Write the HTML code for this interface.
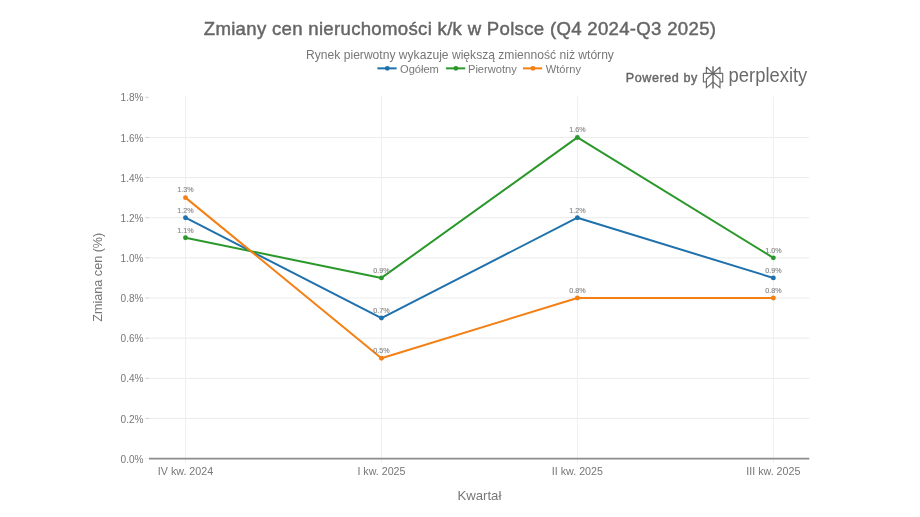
<!DOCTYPE html><html><head><meta charset="utf-8"><style>html,body{margin:0;padding:0;background:#fff;}svg{display:block;will-change:transform;}text{font-family:"Liberation Sans",sans-serif;}</style></head><body>
<svg width="920" height="517" viewBox="0 0 920 517">
<rect width="920" height="517" fill="#fff"/>
<line x1="149.0" x2="809.3" y1="418.41" y2="418.41" stroke="#ebebeb" stroke-width="1"/>
<line x1="149.0" x2="809.3" y1="378.27" y2="378.27" stroke="#ebebeb" stroke-width="1"/>
<line x1="149.0" x2="809.3" y1="338.13" y2="338.13" stroke="#ebebeb" stroke-width="1"/>
<line x1="149.0" x2="809.3" y1="297.99" y2="297.99" stroke="#ebebeb" stroke-width="1"/>
<line x1="149.0" x2="809.3" y1="257.85" y2="257.85" stroke="#ebebeb" stroke-width="1"/>
<line x1="149.0" x2="809.3" y1="217.71" y2="217.71" stroke="#ebebeb" stroke-width="1"/>
<line x1="149.0" x2="809.3" y1="177.57" y2="177.57" stroke="#ebebeb" stroke-width="1"/>
<line x1="149.0" x2="809.3" y1="137.43" y2="137.43" stroke="#ebebeb" stroke-width="1"/>
<line x1="185.5" x2="185.5" y1="96.09" y2="462.55" stroke="#efefef" stroke-width="1"/>
<line x1="381.45" x2="381.45" y1="96.09" y2="462.55" stroke="#efefef" stroke-width="1"/>
<line x1="577.4" x2="577.4" y1="96.09" y2="462.55" stroke="#efefef" stroke-width="1"/>
<line x1="773.35" x2="773.35" y1="96.09" y2="462.55" stroke="#efefef" stroke-width="1"/>
<line x1="145" x2="149.0" y1="458.55" y2="458.55" stroke="#f2f2f2" stroke-width="1"/>
<text x="143.6" y="462.65" font-size="10.1" fill="#777" text-anchor="end">0.0%</text>
<line x1="145" x2="149.0" y1="418.41" y2="418.41" stroke="#d4d4d4" stroke-width="1"/>
<text x="143.6" y="422.51" font-size="10.1" fill="#777" text-anchor="end">0.2%</text>
<line x1="145" x2="149.0" y1="378.27" y2="378.27" stroke="#d4d4d4" stroke-width="1"/>
<text x="143.6" y="382.37" font-size="10.1" fill="#777" text-anchor="end">0.4%</text>
<line x1="145" x2="149.0" y1="338.13" y2="338.13" stroke="#d4d4d4" stroke-width="1"/>
<text x="143.6" y="342.23" font-size="10.1" fill="#777" text-anchor="end">0.6%</text>
<line x1="145" x2="149.0" y1="297.99" y2="297.99" stroke="#d4d4d4" stroke-width="1"/>
<text x="143.6" y="302.09" font-size="10.1" fill="#777" text-anchor="end">0.8%</text>
<line x1="145" x2="149.0" y1="257.85" y2="257.85" stroke="#d4d4d4" stroke-width="1"/>
<text x="143.6" y="261.95" font-size="10.1" fill="#777" text-anchor="end">1.0%</text>
<line x1="145" x2="149.0" y1="217.71" y2="217.71" stroke="#d4d4d4" stroke-width="1"/>
<text x="143.6" y="221.81" font-size="10.1" fill="#777" text-anchor="end">1.2%</text>
<line x1="145" x2="149.0" y1="177.57" y2="177.57" stroke="#d4d4d4" stroke-width="1"/>
<text x="143.6" y="181.67" font-size="10.1" fill="#777" text-anchor="end">1.4%</text>
<line x1="145" x2="149.0" y1="137.43" y2="137.43" stroke="#d4d4d4" stroke-width="1"/>
<text x="143.6" y="141.53" font-size="10.1" fill="#777" text-anchor="end">1.6%</text>
<line x1="145" x2="149.0" y1="97.29" y2="97.29" stroke="#d4d4d4" stroke-width="1"/>
<text x="143.6" y="101.39" font-size="10.1" fill="#777" text-anchor="end">1.8%</text>
<line x1="149.0" x2="809.3" y1="458.55" y2="458.55" stroke="#8c8c8c" stroke-width="1.7"/>
<text x="185.5" y="474.9" font-size="10.7" fill="#777" text-anchor="middle">IV kw. 2024</text>
<text x="381.45" y="474.9" font-size="10.7" fill="#777" text-anchor="middle">I kw. 2025</text>
<text x="577.4" y="474.9" font-size="10.7" fill="#777" text-anchor="middle">II kw. 2025</text>
<text x="773.35" y="474.9" font-size="10.7" fill="#777" text-anchor="middle">III kw. 2025</text>
<polyline points="185.50,217.71 381.45,318.06 577.40,217.71 773.35,277.92" fill="none" stroke="#1e71ad" stroke-width="2" stroke-linejoin="round"/>
<circle cx="185.5" cy="217.71" r="2.45" fill="#1e71ad"/>
<circle cx="381.45" cy="318.06" r="2.45" fill="#1e71ad"/>
<circle cx="577.4" cy="217.71" r="2.45" fill="#1e71ad"/>
<circle cx="773.35" cy="277.92" r="2.45" fill="#1e71ad"/>
<polyline points="185.50,237.78 381.45,277.92 577.40,137.43 773.35,257.85" fill="none" stroke="#2b982b" stroke-width="2" stroke-linejoin="round"/>
<circle cx="185.5" cy="237.78" r="2.45" fill="#2b982b"/>
<circle cx="381.45" cy="277.92" r="2.45" fill="#2b982b"/>
<circle cx="577.4" cy="137.43" r="2.45" fill="#2b982b"/>
<circle cx="773.35" cy="257.85" r="2.45" fill="#2b982b"/>
<polyline points="185.50,197.64 381.45,358.20 577.40,297.99 773.35,297.99" fill="none" stroke="#f47f13" stroke-width="2" stroke-linejoin="round"/>
<circle cx="185.5" cy="197.64" r="2.45" fill="#f47f13"/>
<circle cx="381.45" cy="358.20" r="2.45" fill="#f47f13"/>
<circle cx="577.4" cy="297.99" r="2.45" fill="#f47f13"/>
<circle cx="773.35" cy="297.99" r="2.45" fill="#f47f13"/>
<text x="185.5" y="212.51" font-size="7.2" fill="#858585" stroke="#858585" stroke-width="0.12" text-anchor="middle">1.2%</text>
<text x="381.45" y="312.86" font-size="7.2" fill="#858585" stroke="#858585" stroke-width="0.12" text-anchor="middle">0.7%</text>
<text x="577.4" y="212.51" font-size="7.2" fill="#858585" stroke="#858585" stroke-width="0.12" text-anchor="middle">1.2%</text>
<text x="773.35" y="272.72" font-size="7.2" fill="#858585" stroke="#858585" stroke-width="0.12" text-anchor="middle">0.9%</text>
<text x="185.5" y="232.58" font-size="7.2" fill="#858585" stroke="#858585" stroke-width="0.12" text-anchor="middle">1.1%</text>
<text x="381.45" y="272.72" font-size="7.2" fill="#858585" stroke="#858585" stroke-width="0.12" text-anchor="middle">0.9%</text>
<text x="577.4" y="132.23" font-size="7.2" fill="#858585" stroke="#858585" stroke-width="0.12" text-anchor="middle">1.6%</text>
<text x="773.35" y="252.65" font-size="7.2" fill="#858585" stroke="#858585" stroke-width="0.12" text-anchor="middle">1.0%</text>
<text x="185.5" y="192.44" font-size="7.2" fill="#858585" stroke="#858585" stroke-width="0.12" text-anchor="middle">1.3%</text>
<text x="381.45" y="353.00" font-size="7.2" fill="#858585" stroke="#858585" stroke-width="0.12" text-anchor="middle">0.5%</text>
<text x="577.4" y="292.79" font-size="7.2" fill="#858585" stroke="#858585" stroke-width="0.12" text-anchor="middle">0.8%</text>
<text x="773.35" y="292.79" font-size="7.2" fill="#858585" stroke="#858585" stroke-width="0.12" text-anchor="middle">0.8%</text>
<text x="460" y="35.0" font-size="18.6" letter-spacing="0.3" stroke="#666" stroke-width="0.45" fill="#666" text-anchor="middle">Zmiany cen nieruchomości k/k w Polsce (Q4 2024-Q3 2025)</text>
<text x="460" y="59" font-size="12.1" fill="#777" text-anchor="middle">Rynek pierwotny wykazuje większą zmienność niż wtórny</text>
<line x1="377.4" x2="396.59999999999997" y1="68.35" y2="68.35" stroke="#1e71ad" stroke-width="2"/>
<circle cx="387.29999999999995" cy="68.35" r="2.45" fill="#1e71ad"/>
<text x="400.0" y="73.1" font-size="11.1" fill="#777">Ogółem</text>
<line x1="446" x2="465.2" y1="68.35" y2="68.35" stroke="#2b982b" stroke-width="2"/>
<circle cx="455.9" cy="68.35" r="2.45" fill="#2b982b"/>
<text x="468.0" y="73.1" font-size="11.1" fill="#777">Pierwotny</text>
<line x1="523" x2="542.2" y1="68.35" y2="68.35" stroke="#f47f13" stroke-width="2"/>
<circle cx="532.9" cy="68.35" r="2.45" fill="#f47f13"/>
<text x="545.8" y="73.1" font-size="11.1" fill="#777">Wtórny</text>
<text x="479.4" y="499.6" font-size="13.2" fill="#777" text-anchor="middle">Kwartał</text>
<text transform="translate(101.6,277.2) rotate(-90)" x="0" y="0" font-size="12.6" fill="#777" text-anchor="middle">Zmiana cen (%)</text>
<text x="625.8" y="82.2" font-size="12.6" letter-spacing="0.55" stroke="#666" stroke-width="0.4" fill="#666">Powered by</text>
<g transform="translate(700,64)" fill="none" stroke="#6a6a6a" stroke-width="1.15" stroke-linejoin="miter"><path d="M6.4,3 L6.4,9.3 M20,3 L20,9.3 M6.4,3 L13,9.3 L20,3 M3.4,9.3 L22.7,9.3 M3.4,9.3 L3.4,17.9 L6.4,17.9 M22.7,9.3 L22.7,17.9 L20,17.9 M13,9.3 L6.4,15.1 L6.4,23.6 L13,18.1 L20,23.6 L20,15.1 Z"/><path d="M13,2.3 L13,24.6" stroke-width="1.5"/></g>
<text transform="translate(728.6,82.3) scale(1,1.07)" x="0" y="0" font-size="18.4" fill="#6a6a6a">perplexity</text>
</svg></body></html>
